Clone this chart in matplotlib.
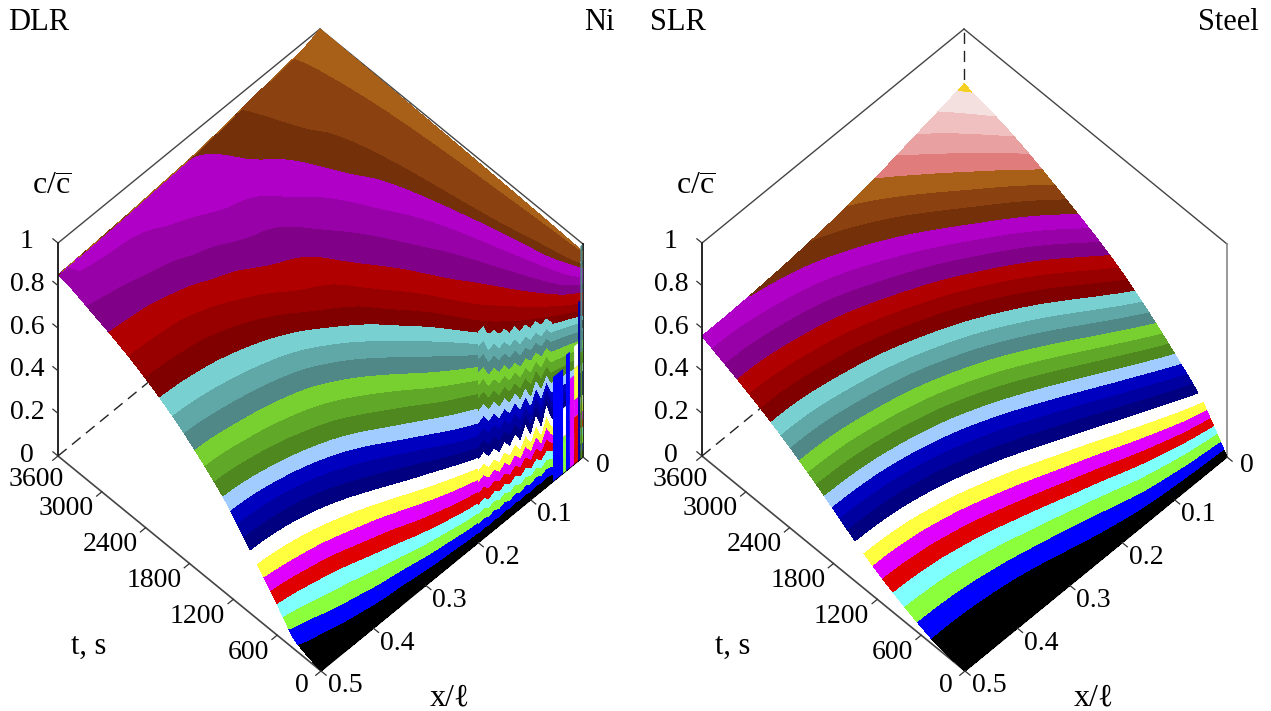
import numpy as np
import matplotlib
matplotlib.use('Agg')
import matplotlib.pyplot as plt
from matplotlib.tri import Triangulation, UniformTriRefiner

plt.rcParams['font.family'] = ['Liberation Serif', 'DejaVu Sans']
plt.rcParams['mathtext.fontset'] = 'custom'
plt.rcParams['mathtext.rm'] = 'Liberation Serif'

# band colours from c=0 upwards
colors_base = ['#000000', '#0000ff', '#8cff3c', '#80ffff', '#e00000', '#e000ff', '#ffff40', '#ffffff',
               '#000080', '#0000a0', '#0000c0', '#a0ccff',
               '#508820', '#60a828', '#78d030',
               '#508888', '#60a8a8', '#78d0d0',
               '#800000', '#980000', '#b00000',
               '#800088', '#9800a8', '#b000c8',
               '#743008', '#8c4210', '#a86018']
colors_top = ['#e07c7c', '#e8a0a0', '#f0c0c0', '#f5e0e0', '#f5d020']

# Ni, DLR: time (as a fraction of 3600 s) at which c reaches band edge k/27, per x column.
# values above 1 mean the edge is not reached inside the plotted time
levels_dlr = [k / 27 for k in range(28)]
x_dlr = [0.5, 0.45, 0.4, 0.35, 0.3, 0.25, 0.2, 0.15, 0.1, 0.05, 0.025, 0.0]
k_dlr = [0, 1, 2, 4, 6, 8, 11, 12, 15, 18, 21, 22, 23, 24, 25, 26, 27]
tau_dlr = [
    [0, 0, 0, 0, 0, 0, 0, 0, 0, 0, 0, 0],
    [.088, .062, .043, .03, .02, .012, .006, .003, .001, .0002, .0001, 0],
    [.122, .095, .072, .053, .037, .023, .012, .005, .0015, .0004, .0002, 0],
    [.168, .152, .13, .10, .07, .043, .023, .01, .003, .0007, .0003, 0],
    [.218, .205, .185, .155, .12, .08, .048, .022, .006, .001, .0005, 0],
    [.27, .262, .243, .21, .165, .118, .073, .035, .011, .002, .001, 0],
    [.345, .337, .318, .288, .242, .18, .118, .066, .026, .008, .003, 0],
    [.374, .365, .345, .315, .27, .208, .145, .09, .042, .014, .006, 0],
    [.481, .472, .455, .43, .39, .325, .24, .16, .09, .035, .018, 0],
    [.615, .607, .59, .56, .515, .445, .355, .24, .116, .05, .025, 0],
    [.809, .80, .78, .745, .70, .64, .55, .41, .25, .10, .037, 0],
    [.893, .875, .85, .82, .78, .735, .66, .53, .36, .15, .05, 0],
    [.98, .96, .95, .92, .875, .83, .77, .66, .49, .24, .09, 0],
    [1.08, 1.07, 1.07, 1.04, 1.02, 1.0, .915, .80, .625, .345, .143, 0],
    [1.2, 1.19, 1.18, 1.15, 1.12, 1.1, 1.05, 1.0, .80, .42, .16, 0],
    [1.35, 1.34, 1.32, 1.3, 1.27, 1.25, 1.2, 1.15, 1.1, 1.0, .75, 0],
    [1.5, 1.5, 1.5, 1.5, 1.5, 1.5, 1.5, 1.5, 1.5, 1.5, 1.3, 1],
]
# c along the t=3600 edge
c_end_dlr = [.85, .855, .862, .87, .88, .889, .905, .925, .945, .963, .975, 1]

# saw teeth of the Ni surface near the x=0 corner, read along vertical lines of the picture
x_teeth = [0.2, 0.19, 0.18, 0.17, 0.16, 0.15, 0.14, 0.13, 0.12, 0.11, 0.10, 0.09, 0.08, 0.07, 0.06]
k_teeth = [0, 1, 4, 8, 12, 15, 18]
tau_teeth = [
    [0, 0, 0, 0, 0, 0, 0, 0, 0, 0, 0, 0, 0, 0, 0],
    [.004, .006, .003, .006, .002, .006, .002, .006, .002, .005, .001, .005, .001, .004, .001],
    [.016, .021, .010, .017, .007, .015, .004, .013, .002, .012, .001, .012, .001, .012, .001],
    [.048, .056, .036, .044, .026, .040, .020, .038, .014, .040, .008, .044, .006, .048, .005],
    [.088, .094, .072, .080, .058, .068, .048, .060, .036, .052, .022, .050, .020, .042, .012],
    [.122, .127, .098, .104, .084, .090, .070, .077, .056, .066, .050, .060, .040, .050, .030],
    [.158, .162, .128, .133, .112, .116, .096, .102, .080, .086, .068, .074, .055, .060, .042],
]

# thin vertical strips right at x=0
strip_x0 = [.0573, .038, .038, .0325, .025, .017, .017, .017, .017, .0095, .005, .005]
strip_x1 = [.038, .0325, .0325, .025, .017, .0095, .0095, .0095, .0095, .005, .001, .001]
strip_c0 = [0, 0, .17, 0, 0, 0, .22, .30, .45, 0, 0, .5]
strip_c1 = [.49, .17, .305, .545, .418, .22, .30, .45, .553, .746, .5, 1]
strip_band = [1, 2, 7, 1, 5, 4, 5, 6, 7, 9, 12, 15]

# Steel, SLR
levels_slr = [k * 0.0237 for k in range(32)] + [0.80]
x_slr = [0.5, 0.45, 0.4, 0.35, 0.3, 0.25, 0.2, 0.15, 0.1, 0.05, 0.0]
t_slr = [0, 300, 600, 1200, 1800, 2400, 3000, 3600]
c_slr = [
    [0, 0, 0, 0, 0, 0, 0, 0, 0, 0, 0],
    [.01, .01, .012, .015, .021, .03, .043, .062, .085, .114, .15],
    [.04, .041, .045, .053, .066, .083, .105, .132, .166, .205, .25],
    [.13, .133, .141, .155, .175, .20, .231, .267, .309, .357, .41],
    [.255, .258, .266, .28, .299, .324, .354, .39, .431, .478, .53],
    [.38, .382, .39, .402, .418, .44, .466, .498, .534, .574, .62],
    [.48, .482, .489, .499, .514, .534, .557, .585, .618, .654, .695],
    [.563, .564, .57, .578, .59, .605, .625, .65, .68, .71, .742],
]

c_ticks = [0, 0.2, 0.4, 0.6, 0.8, 1]
t_ticks = [0, 600, 1200, 1800, 2400, 3000, 3600]
x_ticks = [0, 0.1, 0.2, 0.3, 0.4, 0.5]


def project(x, t, c, x0):
    X = (0.5 - np.asarray(x, dtype=float)) / 0.5
    T = np.asarray(t, dtype=float) / 3600
    px = x0 - 263 * T + 262 * X
    py = 671 - 215 * T - 214 * X - 213 * np.asarray(c, dtype=float)
    return px, py


def open_levels(levels):
    lv = list(levels)
    lv[0] = -0.001
    lv[-1] = lv[-1] + 0.001
    return lv


def draw_dlr(ax, x0):
    # smooth tau over (x, k) with matplotlib's own refiner, then cut it at t=3600
    xx, kk = np.meshgrid(x_dlr, k_dlr)
    tri = Triangulation(xx.ravel() * 40, kk.ravel().astype(float))
    refiner = UniformTriRefiner(tri)
    fine, tau_fine = refiner.refine_field(np.array(tau_dlr, dtype=float).ravel(), subdiv=3)
    ends = np.tile(c_end_dlr, (len(k_dlr), 1))
    _, end_fine = refiner.refine_field(ends.ravel(), subdiv=3)
    x_fine = fine.x / 40
    c_fine = np.clip(fine.y / 27, 0, 1)
    past_end = (c_fine >= end_fine) | (tau_fine >= 1)
    tau_fine = np.clip(tau_fine, 0, 1)
    tau_fine[past_end] = 1
    c_draw = np.where(past_end, end_fine, c_fine)
    px, py = project(x_fine, tau_fine * 3600, c_draw, x0)
    screen = Triangulation(px, py, fine.triangles)
    ax.tricontourf(screen, c_fine, levels=open_levels(levels_dlr), colors=colors_base,
                   zorder=2, antialiased=False)

    # teeth follow vertical lines of the picture: x shrinks as t grows
    xx, kk = np.meshgrid(x_teeth, k_teeth)
    cc = kk / 27
    tau = np.array(tau_teeth)
    px, py = project(xx - 0.5 * tau, tau * 3600, cc, x0)
    ax.contourf(px, py, cc, levels=open_levels(levels_dlr), colors=colors_base, zorder=2.5, antialiased=False)

    for a, b, c0, c1, band in zip(strip_x0, strip_x1, strip_c0, strip_c1, strip_band):
        pa0 = project(a, 0, c0, x0)
        pb0 = project(b, 0, c0, x0)
        pb1 = project(b, 0, c1, x0)
        pa1 = project(a, 0, c1, x0)
        ax.fill([pa0[0], pb0[0], pb1[0], pa1[0]], [pa0[1], pb0[1], pb1[1], pa1[1]],
                color=colors_base[band], lw=0, zorder=2.6)


def draw_slr(ax, x0):
    xx, tt = np.meshgrid(x_slr, t_slr)
    cc = np.array(c_slr, dtype=float)
    ii, jj = np.meshgrid(np.arange(cc.shape[1]), np.arange(cc.shape[0]))
    tri = Triangulation(ii.ravel().astype(float), jj.ravel().astype(float))
    refiner = UniformTriRefiner(tri)
    fine, c_fine = refiner.refine_field(cc.ravel(), subdiv=3)
    _, x_fine = refiner.refine_field(xx.ravel().astype(float), subdiv=3)
    _, t_fine = refiner.refine_field(tt.ravel().astype(float), subdiv=3)
    c_fine = np.clip(c_fine, 0, 1)
    px, py = project(np.clip(x_fine, 0, 0.5), np.clip(t_fine, 0, 3600), c_fine, x0)
    screen = Triangulation(px, py, fine.triangles)
    ax.tricontourf(screen, c_fine, levels=open_levels(levels_slr), colors=colors_base + colors_top,
                   zorder=2, antialiased=False)


def draw_frame(ax, x0, line_color):
    def seg(a, b, **kw):
        p = project(*a, x0)
        q = project(*b, x0)
        ax.plot([p[0], q[0]], [p[1], q[1]], **kw)

    solid = dict(color='#444444', lw=1.0, zorder=1)
    dash = dict(color='#222222', lw=1.0, ls=(0, (8, 5)), zorder=1)
    seg((0.5, 3600, 0), (0, 3600, 0), **dash)
    seg((0, 3600, 0), (0, 3600, 1), **dash)
    seg((0.5, 3600, 1), (0, 3600, 1), **solid)
    seg((0, 3600, 1), (0, 0, 1), **solid)
    seg((0, 0, 1), (0, 0, 0), color=line_color, lw=1.2, zorder=1)
    seg((0.5, 3600, 0), (0.5, 3600, 1), color='black', lw=1.2, zorder=3)
    seg((0.5, 3600, 0), (0.5, 0, 0), color='#444444', lw=1.2, zorder=1)
    seg((0.5, 0, 0), (0, 0, 0), color='black', lw=1.0, zorder=1)

    tick = dict(color='#333333', lw=0.9, zorder=3)
    for c in c_ticks:
        seg((0.5, 3600, c), (0.5, 3670, c), **tick)
        px_t, py_t = project(0.5, 3600, c, x0)
        ax.text(px_t - 31, py_t - 1, str(c), ha='center', va='center', fontsize=20)
    for t in t_ticks:
        seg((0.5, t, 0), (0.51, t, 0), **tick)
        px_t, py_t = project(0.5, t, 0, x0)
        if t == 3600:
            ax.text(px_t + 6, py_t + 23, str(t), ha='right', va='center', fontsize=20)
        elif t == 0:
            ax.text(px_t - 12, py_t + 15, str(t), ha='right', va='center', fontsize=20)
        else:
            ax.text(px_t - 8, py_t + 17, str(t), ha='right', va='center', fontsize=20)
    for x in x_ticks:
        seg((x, 0, 0), (x, -70, 0), **tick)
        px_t, py_t = project(x, 0, 0, x0)
        dy = 9 if x == 0 else 15
        dx = 20 if x == 0 else 24
        ax.text(px_t + dx, py_t + dy, str(x) if x else '0', ha='center', va='center', fontsize=20)

    ax.text(x0 - 269, 187, r'c/$\overline{\mathrm{c}}$', ha='center', va='center', fontsize=23)
    ax.text(x0 - 232, 646, 't, s', ha='center', va='center', fontsize=22)
    ax.text(x0 + 129, 698, 'x/\u2113', ha='center', va='center', fontsize=23)


fig = plt.figure(figsize=(12.71, 7.11), dpi=100)
ax = fig.add_axes([0, 0, 1, 1])
ax.set_xlim(0, 1271)
ax.set_ylim(711, 0)
ax.axis('off')

draw_frame(ax, 321, 'black')
draw_dlr(ax, 321)

draw_frame(ax, 965, '#888888')
draw_slr(ax, 965)

ax.text(8, 22, 'DLR', ha='left', va='center', fontsize=22)
ax.text(615, 22, 'Ni', ha='right', va='center', fontsize=22)
ax.text(650, 22, 'SLR', ha='left', va='center', fontsize=22)
ax.text(1259, 22, 'Steel', ha='right', va='center', fontsize=22)

fig.savefig('out.png', dpi=100)
